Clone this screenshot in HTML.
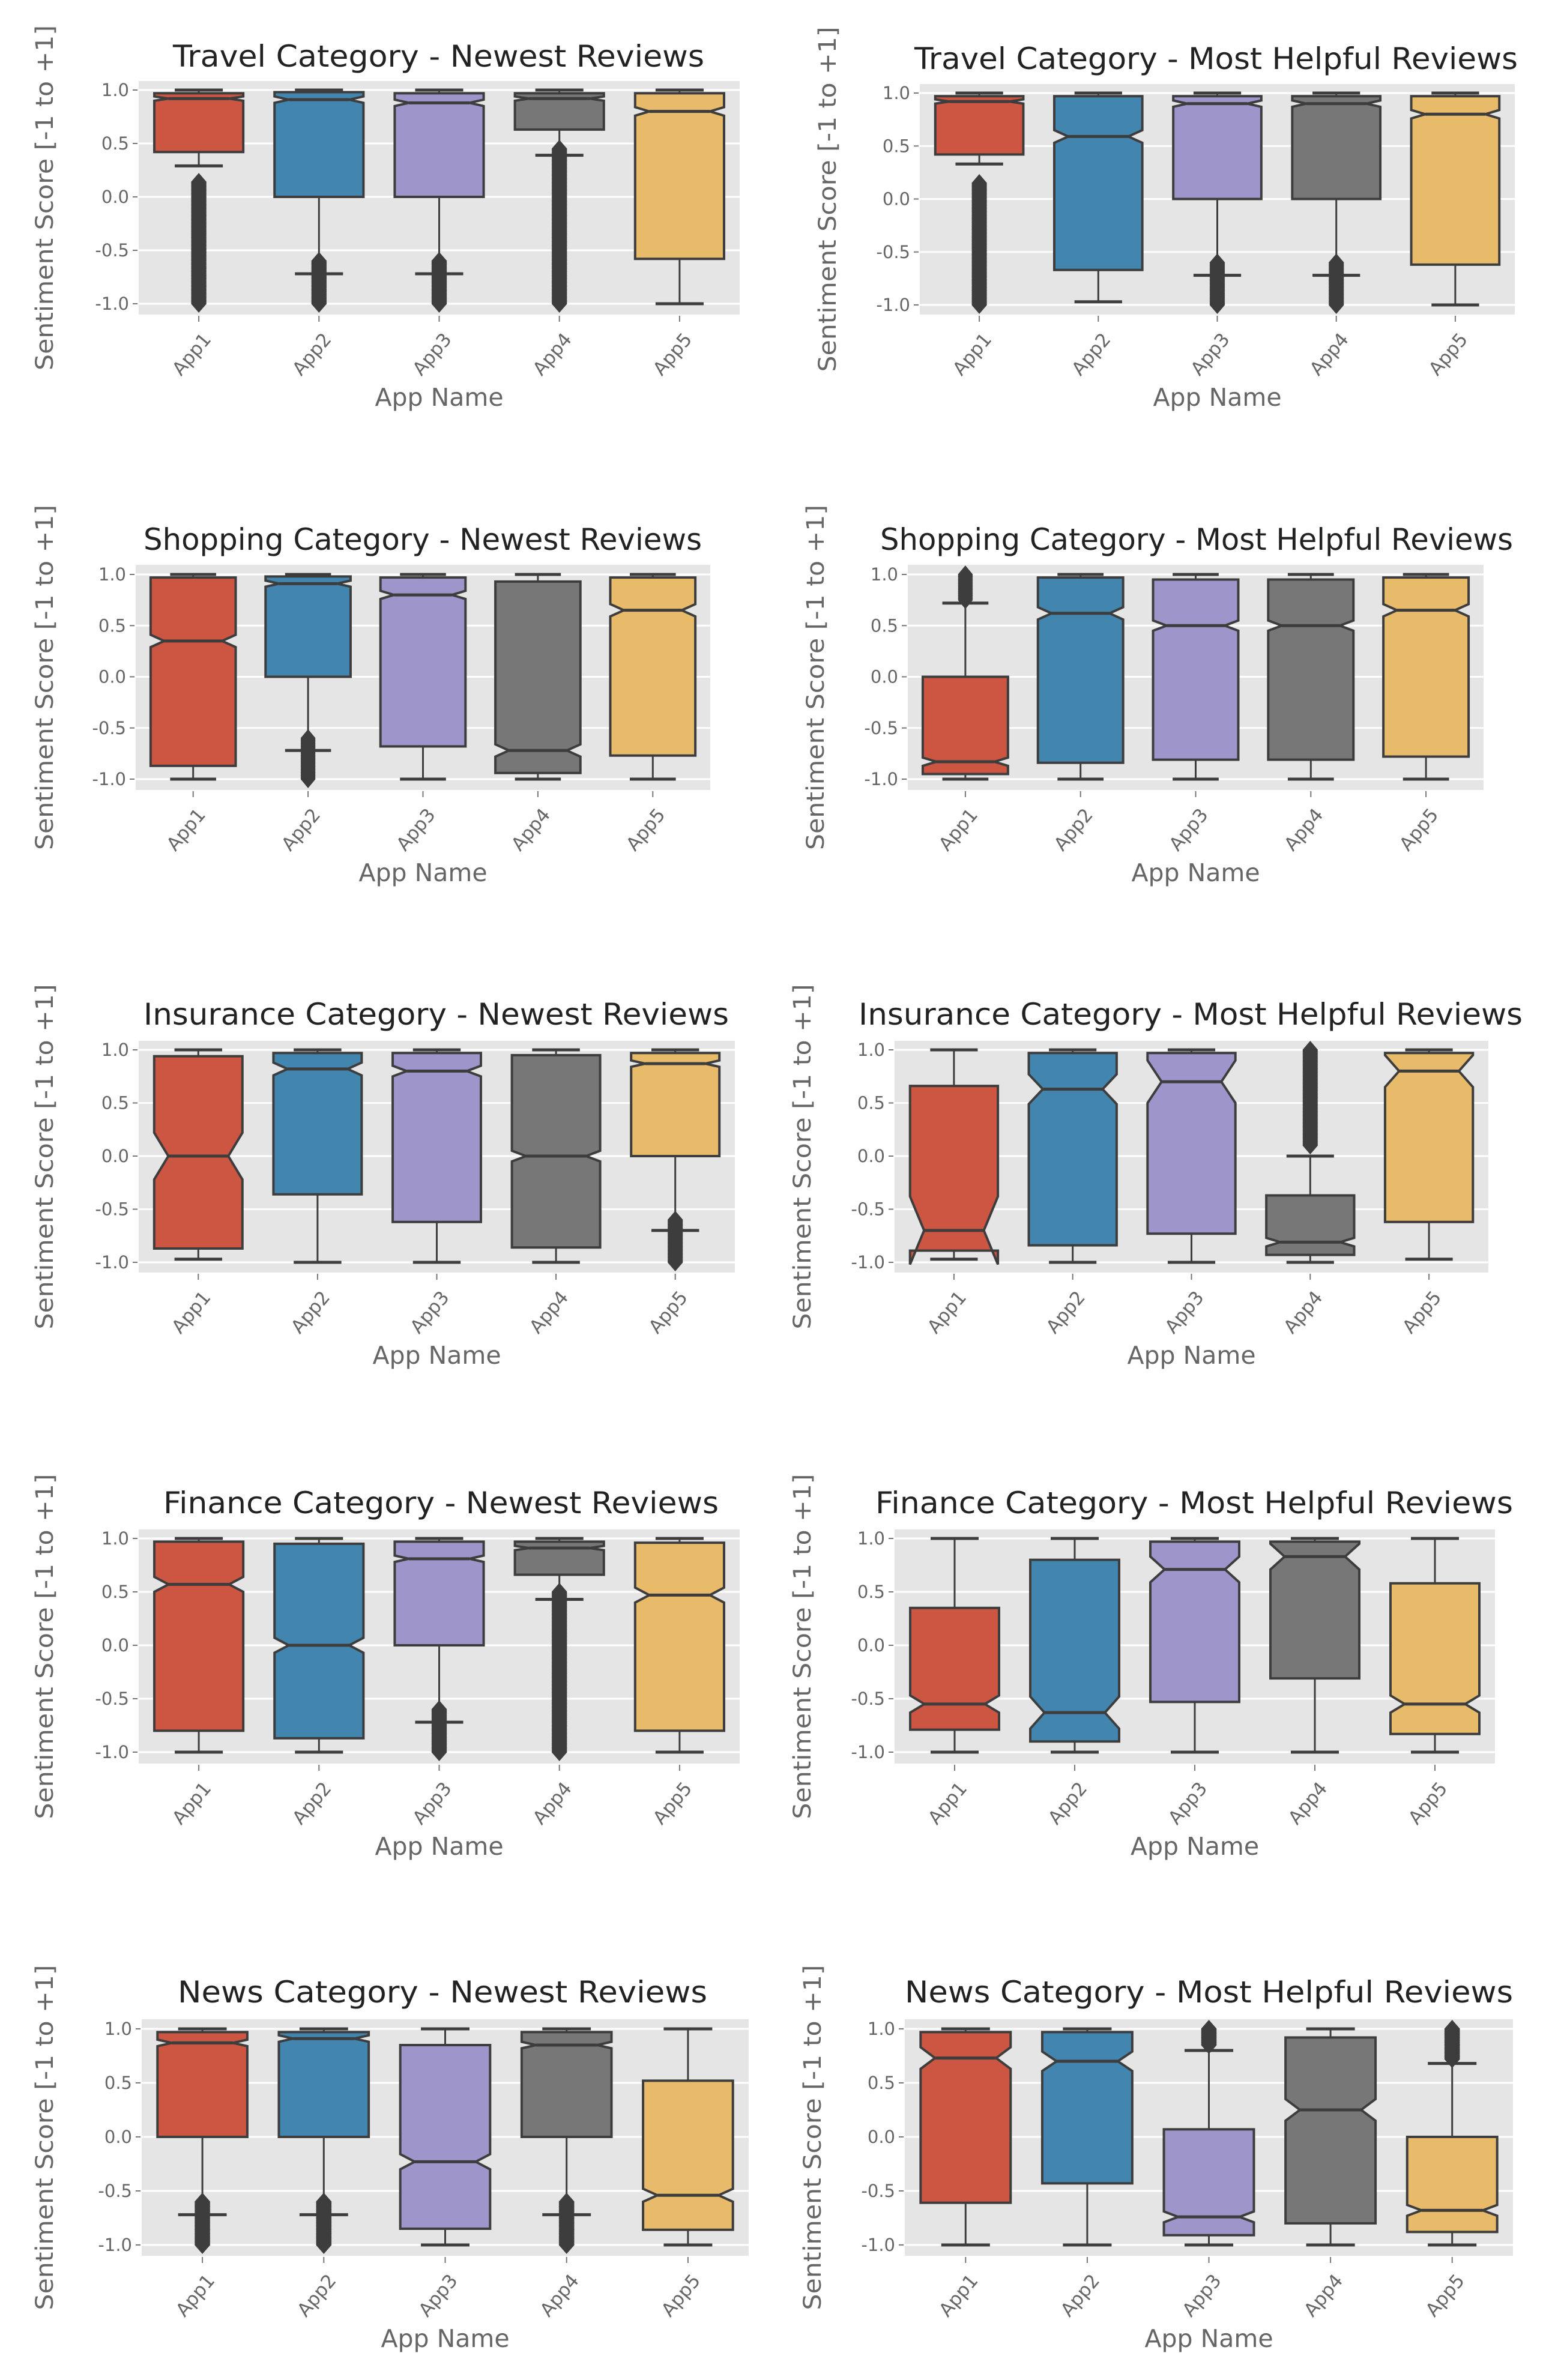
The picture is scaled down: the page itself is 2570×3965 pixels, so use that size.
<!DOCTYPE html>
<html><head><meta charset="utf-8"><style>html,body{margin:0;padding:0;background:#fff}svg{display:block}</style></head>
<body>
<svg id="fig" width="2570" height="3965" viewBox="0 0 2570 3965" xmlns="http://www.w3.org/2000/svg" font-family="'DejaVu Sans','Liberation Sans',sans-serif">
<rect width="2570" height="3965" fill="#fff"/>
</svg>
<script>
const apps = ["App1","App2","App3","App4","App5"];
const titles = ["Travel Category - Newest Reviews","Travel Category - Most Helpful Reviews","Shopping Category - Newest Reviews","Shopping Category - Most Helpful Reviews","Insurance Category - Newest Reviews","Insurance Category - Most Helpful Reviews","Finance Category - Newest Reviews","Finance Category - Most Helpful Reviews","News Category - Newest Reviews","News Category - Most Helpful Reviews"];
const yTicks = [1.0,0.5,0.0,-0.5,-1.0];
const yTickLabels = ["1.0","0.5","0.0","-0.5","-1.0"];
const q1 = [[.42,0,0,.63,-.58],[.42,-.67,0,0,-.62],[-.87,0,-.68,-.94,-.77],[-.95,-.84,-.81,-.81,-.78],[-.87,-.36,-.62,-.86,0],[-.89,-.84,-.73,-.93,-.62],[-.8,-.87,0,.66,-.8],[-.79,-.9,-.53,-.31,-.83],[0,0,-.85,0,-.86],[-.61,-.43,-.91,-.8,-.88]];
const med = [[.92,.91,.88,.92,.8],[.92,.59,.9,.9,.8],[.35,.91,.8,-.72,.65],[-.83,.62,.5,.5,.65],[0,.82,.8,0,.87],[-.7,.63,.7,-.81,.8],[.57,0,.81,.91,.47],[-.55,-.63,.71,.83,-.55],[.87,.91,-.23,.85,-.54],[.73,.7,-.74,.25,-.68]];
const q3 = [[.97,.98,.97,.97,.97],[.97,.97,.97,.97,.97],[.97,.98,.97,.93,.97],[0,.97,.95,.95,.97],[.94,.97,.97,.95,.97],[.66,.97,.97,-.37,.97],[.97,.95,.97,.97,.96],[.35,.8,.97,.97,.58],[.97,.97,.85,.97,.52],[.97,.97,.07,.92,0]];
const wlo = [[.29,-.72,-.72,.39,-1],[.33,-.97,-.72,-.72,-1],[-1,-.72,-1,-1,-1],[-1,-1,-1,-1,-1],[-.97,-1,-1,-1,-.7],[-.97,-1,-1,-1,-.97],[-1,-1,-.72,.43,-1],[-1,-1,-1,-1,-1],[-.72,-.72,-1,-.72,-1],[-1,-1,-1,-1,-1]];
const whi = [[1,1,1,1,1],[1,1,1,1,1],[1,1,1,1,1],[.72,1,1,1,1],[1,1,1,1,1],[1,1,1,0,1],[1,1,1,1,1],[1,1,1,1,1],[1,1,1,1,1],[1,1,.8,1,.68]];
const notch = [[.02,.03,.03,.02,.04],[.02,.06,.03,.03,.04],[.06,.03,.04,.06,.06],[.04,.06,.05,.05,.06],[.22,.06,.05,.05,.03],[.32,.14,.2,.04,.15],[.07,.07,.03,.02,.07],[.08,.15,.12,.12,.08],[.03,.03,.07,.03,.06],[.1,.09,.05,.1,.05]];
const outLo = [[-1,-1,-1,-1,null],[-1,null,-1,-1,null],[null,-1,null,null,null],[.75,null,null,null,null],[null,null,null,null,-1],[null,null,null,.1,null],[null,null,-1,-1,null],[null,null,null,null,null],[-1,-1,null,-1,null],[null,null,.85,null,.72]];
const outHi = [[.14,-.6,-.6,.45,null],[.15,null,-.6,-.6,null],[null,-.6,null,null,null],[1,null,null,null,null],[null,null,null,null,-.6],[null,null,null,1,null],[null,null,-.6,.5,null],[null,null,null,null,null],[-.6,-.6,null,-.6,null],[null,null,1,null,1]];

// layout (pixels)
const L = [
 {x0:231,x1:1232,bt:135,bb:524,y1:150,ym:506,tx0:288,tx1:1173,ty:111},
 {x0:1532,x1:2523,bt:140,bb:524,y1:155,ym:508,tx0:1523,tx1:2528,ty:115},
 {x0:226,x1:1183,bt:941,bb:1316,y1:957,ym:1298,tx0:239,tx1:1169,ty:916},
 {x0:1512,x1:2471,bt:941,bb:1316,y1:957,ym:1298,tx0:1466,tx1:2520,ty:916},
 {x0:231,x1:1224,bt:1734,bb:2120,y1:1749,ym:2103,tx0:239,tx1:1214,ty:1707},
 {x0:1490,x1:2479,bt:1734,bb:2120,y1:1749,ym:2103,tx0:1430,tx1:2536,ty:1707},
 {x0:231,x1:1232,bt:2548,bb:2938,y1:2563,ym:2919,tx0:272,tx1:1197,ty:2521},
 {x0:1490,x1:2490,bt:2548,bb:2938,y1:2563,ym:2919,tx0:1458,tx1:2520,ty:2521},
 {x0:236,x1:1247,bt:3364,bb:3758,y1:3380,ym:3740,tx0:296,tx1:1178,ty:3336},
 {x0:1507,x1:2520,bt:3364,bb:3758,y1:3380,ym:3740,tx0:1507,tx1:2520,ty:3336}
];
const colors = ["#CC5641","#4285AF","#9E96CB","#777777","#E8BB6B"];
const EDGE = "#3d3d3d";
const NS = "http://www.w3.org/2000/svg";
const svg = document.getElementById('fig');
function mk(tag, attrs, parent){const e=document.createElementNS(NS,tag);for(const k in attrs)e.setAttribute(k,attrs[k]);(parent||svg).appendChild(e);return e;}

L.forEach((p,pi)=>{
  const g = mk('g',{});
  
  
  const y = v => p.y1 + (1 - v) * (p.ym - p.y1) / 2;
  const slot = (p.x1 - p.x0) / apps.length;
  const xc = i => p.x0 + slot * (i + 0.5);
  const bg = mk('rect',{x:p.x0,y:p.bt,width:p.x1-p.x0,height:p.bb-p.bt,fill:'#E5E5E5'},g);
  
  
  yTicks.forEach((t,ti)=>{
    mk('line',{x1:p.x0,x2:p.x1,y1:y(t),y2:y(t),stroke:'#fff','stroke-width':3},g);
    mk('line',{x1:p.x0-10,x2:p.x0-2,y1:y(t),y2:y(t),stroke:'#777','stroke-width':2},g);
    const tl = mk('text',{x:p.x0-16,y:y(t)+10,'text-anchor':'end','font-size':29,fill:'#666'},g);
    tl.textContent = yTickLabels[ti];
    
    
  });
  const ttl = mk('text',{x:p.tx0,y:p.ty,'font-size':50,fill:'#222',textLength:p.tx1-p.tx0,lengthAdjust:'spacingAndGlyphs'},g);
  ttl.textContent = titles[pi];
  
  
  const cy = (p.bt + p.bb) / 2;
  const ylx = (pi % 2 === 0) ? 88 : p.x0 - 140;
  const yl = mk('text',{x:ylx,y:cy,'text-anchor':'middle','font-size':40,fill:'#666',transform:`rotate(-90 ${ylx} ${cy})`,textLength:575,lengthAdjust:'spacingAndGlyphs'},g);
  yl.textContent = 'Sentiment Score [-1 to +1]';
  
  
  const xl = mk('text',{x:(p.x0+p.x1)/2,y:p.bb+152,'text-anchor':'middle','font-size':41,fill:'#666'},g);
  xl.textContent = 'App Name';
  
  

  apps.forEach((a,i)=>{
    const cx = xc(i);
    mk('line',{x1:cx,x2:cx,y1:p.bb+2,y2:p.bb+12,stroke:'#777','stroke-width':2},g);
    const tx = cx+22, ty = p.bb+42;
    const xt = mk('text',{x:tx,y:ty,'text-anchor':'end','font-size':31,fill:'#666',transform:`rotate(-50 ${tx} ${ty})`},g);
    xt.textContent = a;
    
    

    const bw = slot*0.74, l = cx-bw/2, r = cx+bw/2, ins = bw*0.16;
    const cap = slot*0.2;
    mk('line',{x1:cx,x2:cx,y1:y(q1[pi][i]),y2:y(wlo[pi][i]),stroke:EDGE,'stroke-width':3},g);
    mk('line',{x1:cx,x2:cx,y1:y(q3[pi][i]),y2:y(whi[pi][i]),stroke:EDGE,'stroke-width':3},g);
    mk('line',{x1:cx-cap,x2:cx+cap,y1:y(wlo[pi][i]),y2:y(wlo[pi][i]),stroke:EDGE,'stroke-width':5},g);
    mk('line',{x1:cx-cap,x2:cx+cap,y1:y(whi[pi][i]),y2:y(whi[pi][i]),stroke:EDGE,'stroke-width':5},g);
    const m = med[pi][i], n = notch[pi][i];
    const pts = [[l,y(q1[pi][i])],[l,y(m-n)],[l+ins,y(m)],[l,y(m+n)],[l,y(q3[pi][i])],[r,y(q3[pi][i])],[r,y(m+n)],[r-ins,y(m)],[r,y(m-n)],[r,y(q1[pi][i])]];
    const box = mk('polygon',{points:pts.map(q=>q.join(',')).join(' '),fill:colors[i],stroke:EDGE,'stroke-width':4,'stroke-linejoin':'miter'},g);
    
    
    mk('line',{x1:l+ins,x2:r-ins,y1:y(m),y2:y(m),stroke:EDGE,'stroke-width':5},g);
    const lo = outLo[pi][i], hi = outHi[pi][i];
    if (lo !== null && hi !== null) {
      const og = mk('g',{fill:EDGE},g);
      
      
      const hw = slot*0.065, hh = 15;
      const steps = Math.max(2, Math.round((hi-lo)/0.01));
      for (let k=0;k<=steps;k++){
        const v = lo + (hi-lo)*k/steps, yy = y(v);
        mk('polygon',{points:`${cx},${yy-hh} ${cx+hw},${yy} ${cx},${yy+hh} ${cx-hw},${yy}`},og);
      }
    }
  });
});
</script>
</body></html>
